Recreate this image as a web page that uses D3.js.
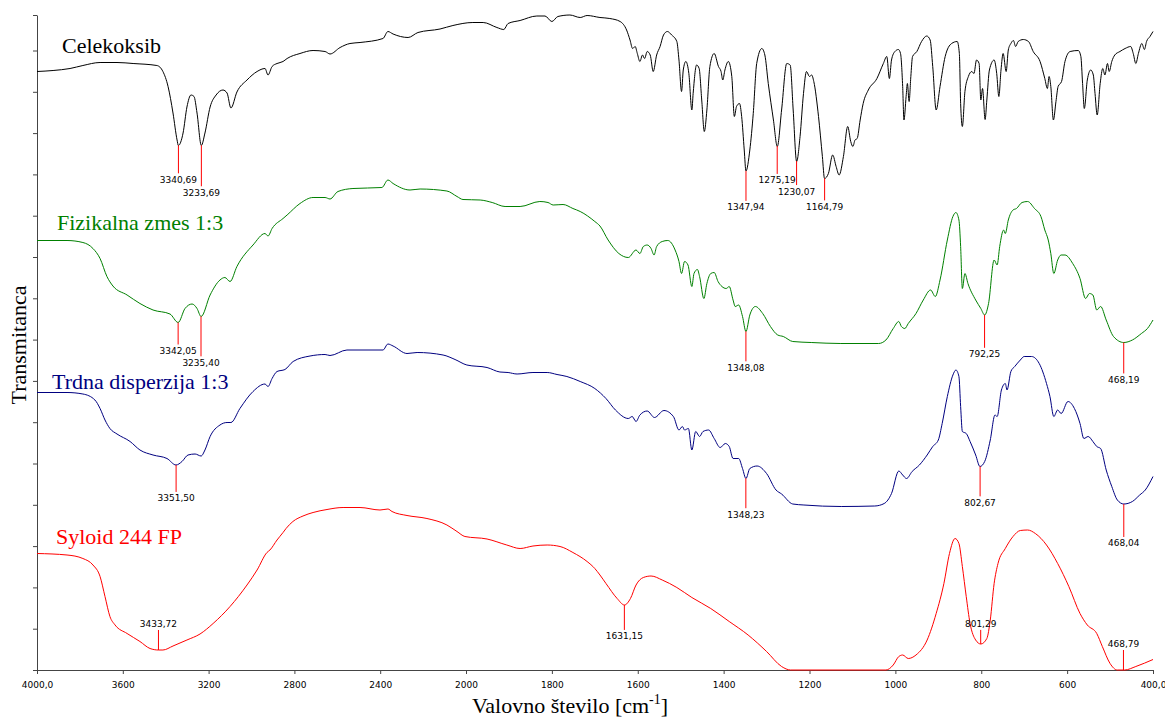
<!DOCTYPE html>
<html>
<head>
<meta charset="utf-8">
<script src="https://cdn.jsdelivr.net/npm/d3@7"></script>
<style>
  body { margin: 0; background: #fff; }
  svg { display: block; }
</style>
</head>
<body>
<svg id="chart" width="1165" height="718"></svg>
<script>
// x axis ticks (wavenumber, cm-1) and their printed labels
const xTicks = [4000, 3600, 3200, 2800, 2400, 2000, 1800, 1600, 1400, 1200, 1000, 800, 600, 400];
const xTickLabels = ['4000,0', '3600', '3200', '2800', '2400', '2000', '1800', '1600', '1400', '1200', '1000', '800', '600', '400,0'];

// spectra: [wavenumber, transmittance (arbitrary units, stacked)]
const celekoksib = [[4000,119.7],[3925,119.9],[3846,120.3],[3786,120.9],[3706,121.5],[3627,121.5],[3552,121.3],[3441,120.9],[3413,119.7],[3389,116.7],[3366,111.4],[3347,106],[3341,104.9],[3319,107.4],[3301,112.6],[3282,115],[3268,114.7],[3254,111.4],[3234,104.9],[3217,107.4],[3193,112.6],[3165,115],[3133,116],[3114,115.4],[3096,112.4],[3068,115.6],[3021,118],[2974,119.7],[2937,120.3],[2923,119],[2904,120.7],[2881,121.3],[2853,121.7],[2834,122.3],[2774,123.3],[2713,123.9],[2657,123.7],[2634,123.2],[2587,124.5],[2541,125.3],[2494,125.5],[2387,126.3],[2364,127.7],[2340,127.2],[2270,126.5],[2224,127.5],[2121,128.2],[2061,128.9],[1984,129.5],[1960,129.5],[1928,128.5],[1912,128.1],[1902,129.3],[1874,129.9],[1835,130.8],[1816,130.8],[1800,129.7],[1786,130.7],[1758,131],[1734,130.5],[1718,130.9],[1688,130.5],[1665,130.3],[1641,129.7],[1626,128],[1618,126],[1612,124.3],[1606,124.7],[1601,123.3],[1595,121.7],[1589,123],[1584,122.3],[1578,123.7],[1571,123],[1564,119.7],[1556,123],[1548,124.7],[1540,127],[1531,127.7],[1521,127],[1509,125.7],[1504,122],[1498,115.7],[1494,120],[1488,121.7],[1481,119.3],[1474,112],[1471,115.3],[1463,121],[1457,120.3],[1451,114],[1445,107.7],[1439,112],[1432,120.7],[1422,123.3],[1412,120.7],[1406,119.7],[1402,118],[1397,120],[1389,121.7],[1381,118.7],[1375,110.7],[1370,112.7],[1363,113.3],[1358,110.7],[1352,104],[1348,99.8],[1339,104],[1331,111.3],[1323,121.3],[1311,124.3],[1304,123],[1296,117.3],[1284,110],[1275,104.7],[1265,112],[1253,121.3],[1245,121],[1238,112],[1230,101.7],[1222,106.7],[1214,115.3],[1207,119.7],[1200,118.7],[1195,119],[1190,117.7],[1179,110.7],[1170,102.7],[1165,98.3],[1156,99.3],[1146,103],[1138,100.7],[1131,99],[1121,102.7],[1111,108.7],[1104,105.7],[1099,104.7],[1094,106],[1089,106.3],[1082,110],[1075,113.3],[1063,116],[1043,118.3],[1028,121.3],[1020,122.7],[1014,118.3],[1009,122],[1001,123.7],[993,124.1],[988,123.3],[983,116.7],[980,110],[975,114.7],[972,117.3],[968,113.7],[964,118.7],[960,122.7],[950,123.7],[939,125.7],[927,126.8],[919,126],[913,120.7],[905,112],[896,116.7],[884,122.7],[869,125.3],[856,125.7],[851,123.3],[848,113.3],[844,108.7],[838,115.7],[830,118.7],[822,119.7],[817,119.3],[811,122],[805,121.3],[801,114],[797,116.3],[791,110.1],[787,114],[781,120],[770,122],[764,119.3],[759,114.7],[754,120],[749,123.3],[742,119.7],[737,124],[731,125.3],[725,125.9],[720,124.7],[714,125.7],[702,126.1],[690,125.7],[679,123.7],[663,121.7],[652,118.3],[646,116.3],[642,118.7],[638,116.7],[632,110],[626,113.7],[621,116.7],[613,117.7],[605,121.7],[593,123.7],[574,123.9],[568,122.7],[564,117.3],[560,112.3],[553,118],[545,120],[539,119],[535,115.3],[530,111],[523,117.3],[517,120.3],[512,119],[506,121.3],[502,119.7],[496,121.7],[489,123],[477,123.7],[465,124.3],[452,124.7],[446,123.3],[440,121.3],[434,123.3],[426,125.3],[420,124.1],[415,125.7],[407,126.7],[400,127.7]];

const fizikalna = [[4000,85.9],[3860,85.9],[3786,85.5],[3739,84.3],[3706,82.3],[3674,78.7],[3646,76.8],[3580,75],[3520,73.3],[3459,72],[3380,71.2],[3342,69.5],[3310,72.3],[3277,73.2],[3254,72.3],[3235,70.7],[3193,75],[3147,78],[3124,78.5],[3100,77.7],[3068,80.7],[2993,85],[2937,87.3],[2923,86.8],[2904,88.3],[2853,90.3],[2834,91],[2774,93.3],[2713,94.5],[2657,94.5],[2634,94.2],[2597,95.7],[2527,96.3],[2392,96.5],[2364,98],[2340,97.3],[2261,96],[2214,96.2],[2089,95.8],[2042,94.7],[2014,94.1],[1967,94],[1939,93.5],[1909,92.7],[1874,92.7],[1828,93.7],[1809,93.5],[1797,93],[1774,93.1],[1751,92.3],[1734,91.7],[1700,89.7],[1688,88.8],[1669,86],[1644,83.3],[1622,82.5],[1604,84],[1595,83.3],[1587,84.7],[1578,85],[1569,84.3],[1562,83],[1556,84.7],[1543,85.7],[1530,85.9],[1513,84],[1504,81.7],[1498,79.3],[1491,81.7],[1483,81],[1474,76.7],[1469,79.3],[1461,80.1],[1456,78.7],[1446,74.3],[1439,77.3],[1430,79.3],[1422,79.5],[1413,77.7],[1404,76.7],[1394,76.3],[1387,76.7],[1378,74],[1373,72.7],[1365,73],[1356,70.7],[1348,67.7],[1339,71],[1326,72.7],[1309,71.3],[1291,68.7],[1274,67],[1261,66.7],[1239,65.7],[1196,65.5],[1127,65.3],[1039,65.3],[1022,66],[1005,68.3],[992,69.7],[986,68.7],[978,68.3],[970,69.3],[952,71.3],[935,74],[918,76],[907,74.7],[896,78],[879,86],[866,90.7],[859,91.5],[852,90],[848,84.7],[844,76.3],[838,79.3],[831,77.3],[813,74],[801,72.3],[792,71],[783,73.3],[770,82],[763,81],[757,84.7],[748,88],[744,87.3],[737,90],[726,92],[718,92.3],[705,93.5],[692,93.7],[676,92.3],[661,90.7],[652,88],[644,86],[638,83.3],[631,79.3],[622,82],[614,83],[605,83],[587,81.3],[570,78.3],[557,74.3],[548,75.3],[540,75],[531,72],[522,72.7],[509,70],[492,66.7],[468,65.5],[448,66],[427,67.3],[413,68.3],[400,70]];

const trdna = [[4000,55.5],[3860,55.5],[3786,55.2],[3730,54],[3706,52.3],[3683,50],[3660,48.3],[3627,47.2],[3566,45.7],[3520,44],[3459,43],[3394,42.3],[3352,41],[3324,41.7],[3296,43],[3263,43.2],[3235,42.8],[3217,44],[3193,46.7],[3147,49],[3114,49.5],[3096,49.5],[3054,52.3],[2993,55.7],[2937,57.2],[2923,56.7],[2904,58.3],[2881,59.7],[2844,60.1],[2806,61.7],[2727,62.8],[2657,63.1],[2634,62.9],[2555,64],[2387,64],[2364,65.2],[2340,64.8],[2275,63.3],[2228,63.5],[2107,63],[2051,62.1],[1998,61],[1951,60.5],[1921,59.6],[1902,59.5],[1881,59.2],[1844,59.5],[1811,59.5],[1788,59.1],[1765,58.7],[1734,57.7],[1700,56.3],[1674,54.3],[1652,52],[1622,50.3],[1613,50.7],[1604,49.7],[1595,51],[1578,51.8],[1561,50.5],[1539,51.9],[1517,50.7],[1504,48],[1496,48.7],[1491,48],[1482,48.3],[1474,44],[1465,47.7],[1456,46.7],[1448,47.7],[1435,48],[1422,46.3],[1408,44.5],[1396,45.3],[1387,44.7],[1378,42.3],[1365,42.3],[1356,40.3],[1348,38.3],[1339,40.3],[1322,40.8],[1300,39.3],[1278,36],[1265,35.2],[1239,33.2],[1213,33],[1126,32.7],[1048,32.8],[1026,33.3],[1009,35.3],[992,39.8],[983,39],[974,38.3],[961,39.7],[944,41],[926,43],[913,44.7],[900,46],[891,49.3],[879,54.7],[866,59],[859,60],[852,58.7],[848,52.7],[844,47.7],[835,47.3],[826,45.7],[813,43],[803,40.7],[792,41.7],[779,46],[768,51],[763,50.7],[753,56],[744,57.3],[740,56],[731,59.7],[722,60.7],[709,62],[700,62.7],[683,62.7],[665,61.3],[648,57.3],[640,54.7],[631,50.7],[622,52],[614,51.3],[598,53.7],[583,52.3],[570,49.3],[561,46.3],[551,46.7],[540,45.7],[531,44.7],[522,44.3],[509,40],[496,36.7],[483,34],[468,33.2],[448,33.7],[431,35],[418,36],[400,38.7]];

const syloid = [[4000,23.3],[3860,23],[3786,22.3],[3739,21],[3706,18.7],[3683,14.7],[3660,10.7],[3636,9],[3580,7.3],[3520,5.7],[3473,4.3],[3434,4],[3413,4],[3366,4.8],[3301,6],[3240,7.2],[3179,9.3],[3100,12.7],[3021,17],[2974,20],[2928,23.5],[2914,24],[2881,26],[2853,27.5],[2839,28.3],[2807,29.7],[2760,30.8],[2713,31.5],[2648,32.1],[2573,32.5],[2494,32.5],[2401,32],[2364,32.2],[2345,31.7],[2275,30.9],[2182,30.3],[2089,29],[2042,27.7],[2005,26.7],[1951,26.2],[1905,25],[1874,24.3],[1844,24.8],[1811,25],[1781,24.7],[1751,23.5],[1718,21.7],[1700,20.3],[1688,19],[1674,17.3],[1648,14.3],[1631,13],[1617,14.3],[1604,17],[1587,18.5],[1569,18.8],[1543,18],[1509,16.5],[1474,14.5],[1430,12.3],[1387,9.7],[1343,7],[1300,3.7],[1265,0.7],[1244,0],[1022,0],[1005,1],[992,2.7],[983,3],[970,2.3],[952,3],[926,6],[905,11.3],[887,17.3],[874,23.3],[861,26.3],[852,25.3],[844,20.7],[835,14.7],[826,9.3],[813,6],[801,5.2],[787,6.3],[779,10],[770,17.3],[761,21.3],[744,24.3],[726,26.7],[709,27.9],[692,28],[674,27.3],[648,25],[622,21.3],[596,16.7],[570,11.3],[553,9],[531,7.3],[518,4.7],[500,1.3],[483,0],[466,0],[440,0.7],[400,2.1]];

// marked peaks per spectrum (cm-1)
const celPeaks = [3340.69, 3233.69, 1347.94, 1275.19, 1230.07, 1164.79];
const fizPeaks = [3342.05, 3235.40, 1348.08, 792.25, 468.19];
const trdPeaks = [3351.50, 1348.23, 802.67, 468.04];
const syPeaks = [3433.72, 1631.15, 801.29, 468.79];

const seriesNames = ['Celekoksib', 'Fizikalna zmes 1:3', 'Trdna disperzija 1:3', 'Syloid 244 FP'];

// layout / style
const colors = ['#000000', '#008000', '#000080', '#ff0000'];
const nameX = [62, 57, 52, 56];
const nameY = [53, 230, 389, 544];
// marker line lengths in px (negative = drawn upwards)
const markLen = [
  [28, 41, 30, 28, 24, 22],
  [22, 40, 30, 33, 31],
  [27, 30, 30, 33],
  [-20, 25, -14, -20]
];

const spectra = [celekoksib, fizikalna, trdna, syloid];
const peaks = [celPeaks, fizPeaks, trdPeaks, syPeaks];

const svg = d3.select('#chart');

// wavenumber axis is expanded 2x below 2000 cm-1
const x = d3.scaleLinear().domain([4000, 2000, 400]).range([37, 466, 1153]);
const y = d3.scaleLinear().domain([0, 131]).range([670, 15]);

const yTicks = d3.range(16).map(k => k * 8.26).concat([131]);

let xAxis = svg.append('g')
    .attr('transform', 'translate(0,670)')
    .call(d3.axisBottom(x)
        .tickValues(xTicks)
        .tickFormat((d, i) => xTickLabels[i])
        .tickSize(4)
        .tickPadding(8)
        .tickSizeOuter(0));

let yAxis = svg.append('g')
    .attr('transform', 'translate(37,0)')
    .call(d3.axisLeft(y)
        .tickValues(yTicks)
        .tickFormat('')
        .tickSize(4)
        .tickSizeOuter(0));

[xAxis, yAxis].forEach(g => {
  g.selectAll('path, line').attr('stroke', '#444');
  g.selectAll('text')
   .attr('font-family', '"DejaVu Sans", Verdana, sans-serif')
   .attr('font-size', 9)
   .attr('fill', '#000');
});

let line = d3.line()
    .x(d => x(d[0]))
    .y(d => y(d[1]))
    .curve(d3.curveMonotoneX);

function valueAt(data, wn) {
  for (let i = 1; i < data.length; i++) {
    let a = data[i - 1], b = data[i];
    if (wn <= a[0] && wn >= b[0]) {
      let t = (a[0] - wn) / (a[0] - b[0]);
      return a[1] + t * (b[1] - a[1]);
    }
  }
  return data[data.length - 1][1];
}

let fmt = d3.format('.2f');

spectra.forEach((data, s) => {
  svg.append('path')
     .datum(data)
     .attr('fill', 'none')
     .attr('stroke', colors[s])
     .attr('stroke-width', 1)
     .attr('stroke-linejoin', 'round')
     .attr('d', line);

  // peak markers
  peaks[s].forEach((wn, i) => {
    let px = x(wn);
    let py = y(valueAt(data, wn));
    let len = markLen[s][i];
    svg.append('line')
       .attr('x1', px).attr('x2', px)
       .attr('y1', py).attr('y2', py + len)
       .attr('stroke', '#ff0000')
       .attr('stroke-width', 1);
    svg.append('text')
       .attr('x', px)
       .attr('y', len > 0 ? py + len + 9.5 : py + len - 3)
       .attr('text-anchor', 'middle')
       .attr('font-family', '"DejaVu Sans", Verdana, sans-serif')
       .attr('font-size', 9)
       .attr('fill', '#000')
       .text(fmt(wn).replace('.', ','));
  });

  svg.append('text')
     .attr('x', nameX[s])
     .attr('y', nameY[s])
     .attr('font-family', '"Liberation Serif", "Times New Roman", serif')
     .attr('font-size', 22)
     .attr('fill', colors[s])
     .text(seriesNames[s]);
});

// axis titles
let xt = svg.append('text')
    .attr('x', 570)
    .attr('y', 713)
    .attr('text-anchor', 'middle')
    .attr('font-family', '"Liberation Serif", "Times New Roman", serif')
    .attr('font-size', 22)
    .attr('fill', '#000');
xt.append('tspan').text('Valovno število [cm');
xt.append('tspan').attr('font-size', 14).attr('dy', -9).text('-1');
xt.append('tspan').attr('dy', 9).text(']');

svg.append('text')
   .attr('transform', 'translate(26,345) rotate(-90)')
   .attr('text-anchor', 'middle')
   .attr('font-family', '"Liberation Serif", "Times New Roman", serif')
   .attr('font-size', 22)
   .attr('fill', '#000')
   .text('Transmitanca');
</script>
</body>
</html>
